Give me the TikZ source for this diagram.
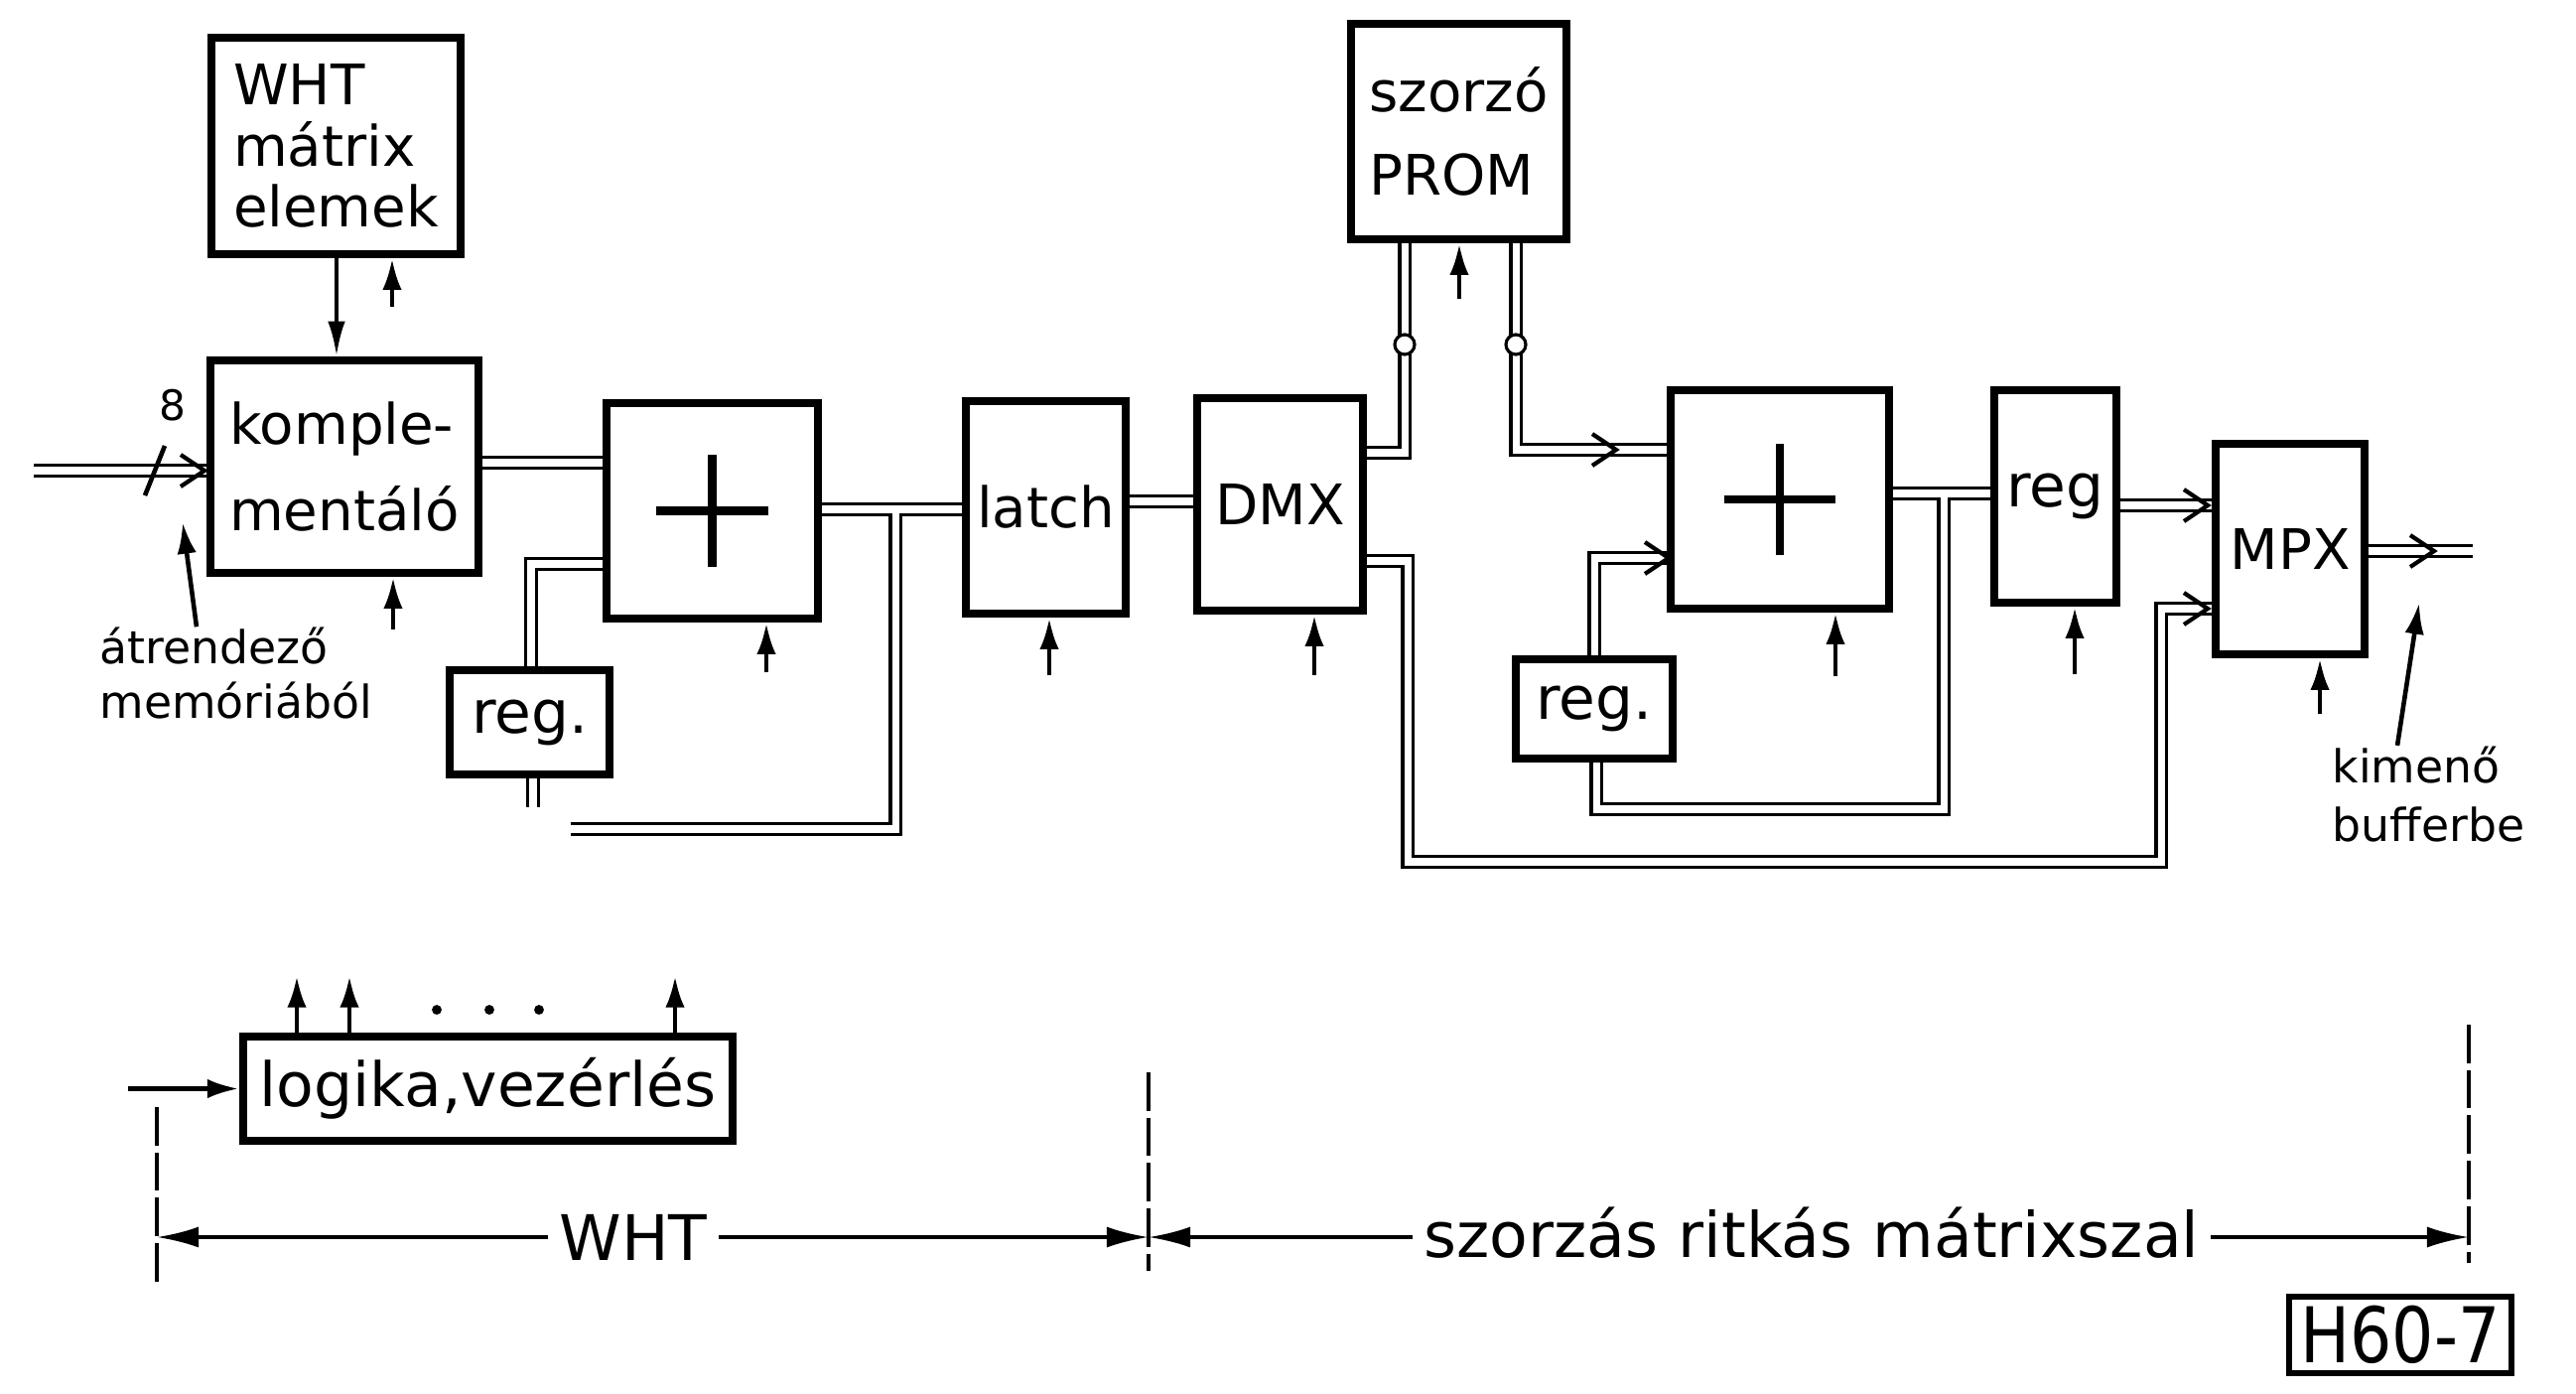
\documentclass[tikz,border=0pt]{standalone}
\usepackage{fontspec}
\setmainfont{DejaVu Sans}
\usetikzlibrary{arrows.meta}
\pgfdeclarelayer{bg}
\pgfsetlayers{bg,main}
\tikzset{
 blk/.style={draw, line width=2.4pt, inner sep=0pt, align=left, font=\fontsize{16}{19}\selectfont},
 bus/.style={double, line width=0.9pt, double distance=2pt},
 clk/.style={line width=1.3pt, -{Latex[length=9pt,width=5.5pt]}},
 dimarr/.style={line width=1pt, -{Latex[length=12pt,width=6pt]}},
 border/.style={line width=1.1pt, dash pattern=on 11pt off 2pt},
 pluss/.style={line width=2.3pt},
 jmark/.style={draw, circle, fill=white, line width=0.9pt, minimum size=0.2cm, inner sep=0pt},
 lbl/.style={inner sep=0pt, align=left},
 chev/.pic={\draw[line width=1.2pt] (-24,-16) -- (0,0) -- (-24,16);}
}
\begin{document}
\begin{tikzpicture}[x=0.01cm, y=-0.01cm]
\useasboundingbox (0,0) rectangle (2595,1403);
\begin{pgfonlayer}{bg}
\fill[white] (0,0) rectangle (2595,1403);
\end{pgfonlayer}

% blocks
\node[blk, minimum width=2.51cm, minimum height=2.18cm, font=\fontsize{16}{17.4}\selectfont] (wht) at (338.5,147) {WHT\\mátrix\\elemek};
\node[blk, minimum width=2.70cm, minimum height=2.14cm, font=\fontsize{16}{25}\selectfont] (komp) at (347,470) {komple-\\mentáló};
\node[blk, minimum width=2.13cm, minimum height=2.17cm] (add1) at (717.5,514.5) {};
\node[blk, minimum width=1.61cm, minimum height=1.05cm, font=\fontsize{17}{20}\selectfont] (reg1) at (533.5,727.5) {reg.};
\node[blk, minimum width=1.61cm, minimum height=2.14cm] (latch) at (1053.5,511) {latch};
\node[blk, minimum width=1.67cm, minimum height=2.14cm] (dmx) at (1289.5,508) {DMX};
\node[blk, minimum width=2.17cm, minimum height=2.17cm, font=\fontsize{16}{24}\selectfont] (prom) at (1469.5,132.5) {szorzó\\PROM};
\node[blk, minimum width=1.58cm, minimum height=1.00cm, font=\fontsize{17}{20}\selectfont] (reg2) at (1606,714) {reg.};
\node[blk, minimum width=2.20cm, minimum height=2.20cm] (add2) at (1793,503) {};
\node[blk, minimum width=1.23cm, minimum height=2.14cm, font=\fontsize{17}{20}\selectfont] (reg3) at (2070.5,500) {reg};
\node[blk, minimum width=1.50cm, minimum height=2.12cm] (mpx) at (2307,553) {MPX};
\node[blk, minimum width=4.93cm, minimum height=1.05cm, font=\fontsize{17.5}{20}\selectfont] (logic) at (491.5,1096.5) {logika,vezérlés};
\node[blk, line width=1.8pt, minimum width=2.24cm, minimum height=0.77cm, font=\fontsize{22}{24}\selectfont] (code) at (2418,1344.5) {\scalebox{0.86}[1]{H60-7}};

% plus signs
\draw[pluss] ([xshift=-16pt]add1.center) -- ([xshift=16pt]add1.center);
\draw[pluss] ([yshift=-16pt]add1.center) -- ([yshift=16pt]add1.center);
\draw[pluss] ([xshift=-16pt]add2.center) -- ([xshift=16pt]add2.center);
\draw[pluss] ([yshift=-16pt]add2.center) -- ([yshift=16pt]add2.center);

% labels
\node[lbl, anchor=west, font=\fontsize{13}{15.6}\selectfont] (src) at (100,678) {átrendező\\memóriából};
\node[lbl, anchor=west, font=\fontsize{13}{17}\selectfont] (kim) at (2349,800) {kimenő\\bufferbe};
\node[lbl, font=\fontsize{12}{14}\selectfont] (w8) at (174,408) {8};
\node[inner sep=3pt, font=\fontsize{18}{20}\selectfont] (dwht) at (638,1246) {WHT};
\node[inner sep=3pt, font=\fontsize{18}{20}\selectfont] (dszor) at (1825,1242) {szorzás ritkás mátrixszal};

% buses (on background layer so box borders stay intact)
\begin{pgfonlayer}{bg}
\draw[bus] (34,474) -- (komp.west |- 0,474);
\draw[bus] (komp.east |- 0,466) -- (add1.west |- 0,466);
\draw[bus] (reg1.north -| 535,0) -- (535,568) -- (add1.west |- 0,568);
\draw[bus] (reg1.south -| 537,0) -- (537,813);
\draw[bus] (add1.east |- 0,513) -- (latch.west |- 0,513);
\draw[bus] ([yshift=-1pt]902,513) -- (902,835) -- (575,835);
\draw[bus] (latch.east |- 0,505) -- (dmx.west |- 0,505);
\draw[bus] (dmx.east |- 0,456) -- (1415,456) -- (prom.south -| 1415,0);
\draw[bus] (prom.south -| 1527,0) -- (1527,453) -- (add2.west |- 0,453);
\draw[bus] (dmx.east |- 0,565) -- (1418,565) -- (1418,868) -- (2177,868) -- (2177,613) -- (mpx.west |- 0,613);
\draw[bus] (reg2.north -| 1606,0) -- (1606,562) -- (add2.west |- 0,562);
\draw[bus] (add2.east |- 0,497) -- (reg3.west |- 0,497);
\draw[bus] ([yshift=-1pt]1958,497) -- (1958,815) -- (1608,815) -- (reg2.south -| 1608,0);
\draw[bus] (reg3.east |- 0,509) -- (mpx.west |- 0,509);
\draw[bus] (mpx.east |- 0,555) -- (2491,555);
\end{pgfonlayer}

% junction circles on PROM lines
\node[jmark] (j1) at (1415,347) {};
\node[jmark] (j2) at (1527,347) {};

% bus arrow chevrons
\pic at (206,474) {chev};
\pic at (1628,453) {chev};
\pic at (1681,562) {chev};
\pic at (2224,509) {chev};
\pic at (2224,613) {chev};
\pic at (2452,555) {chev};

% bus width mark
\draw[line width=1.3pt] (146,499) -- (166,449);

% single wires and clock arrows
\draw[line width=1.2pt, -{Latex[length=10pt,width=5pt]}] (wht.south -| 339,0) -- (komp.north -| 339,0);
\draw[clk] (395,309) -- (wht.south -| 395,0);
\draw[clk] (396,634) -- (komp.south -| 396,0);
\draw[clk] (772,677) -- (add1.south -| 772,0);
\draw[clk] (1057,680) -- (latch.south -| 1057,0);
\draw[clk] (1324,680) -- (dmx.south -| 1324,0);
\draw[clk] (1470,301) -- (prom.south -| 1470,0);
\draw[clk] (1849,681) -- (add2.south -| 1849,0);
\draw[clk] (2090,679) -- (reg3.south -| 2090,0);
\draw[clk] (2337,719) -- (mpx.south -| 2337,0);
\draw[clk] (src.north -| 198,0) -- (184,526);
\draw[clk] (kim.north -| 2415,0) -- (2437,607);

% logic block arrows
\draw[clk] (129,1096.5) -- (logic.west);
\draw[clk] (logic.north -| 299,0) -- (299,983);
\draw[clk] (logic.north -| 352,0) -- (352,983);
\draw[clk] (logic.north -| 680,0) -- (680,983);
\fill (440,1017) circle (1.4pt);
\fill (493,1017) circle (1.4pt);
\fill (543,1017) circle (1.4pt);

% dimension lines
\draw[border] (158,1115) -- (158,1296);
\draw[border] (1157,1080) -- (1157,1280);
\draw[border] (2487,1032) -- (2487,1272);
\draw[dimarr] (dwht.west) -- (158,1246);
\draw[dimarr] (dwht.east) -- (1157,1246);
\draw[dimarr] (dszor.west |- 0,1246) -- (1157,1246);
\draw[dimarr] (dszor.east |- 0,1246) -- (2487,1246);
\end{tikzpicture}
\end{document}
